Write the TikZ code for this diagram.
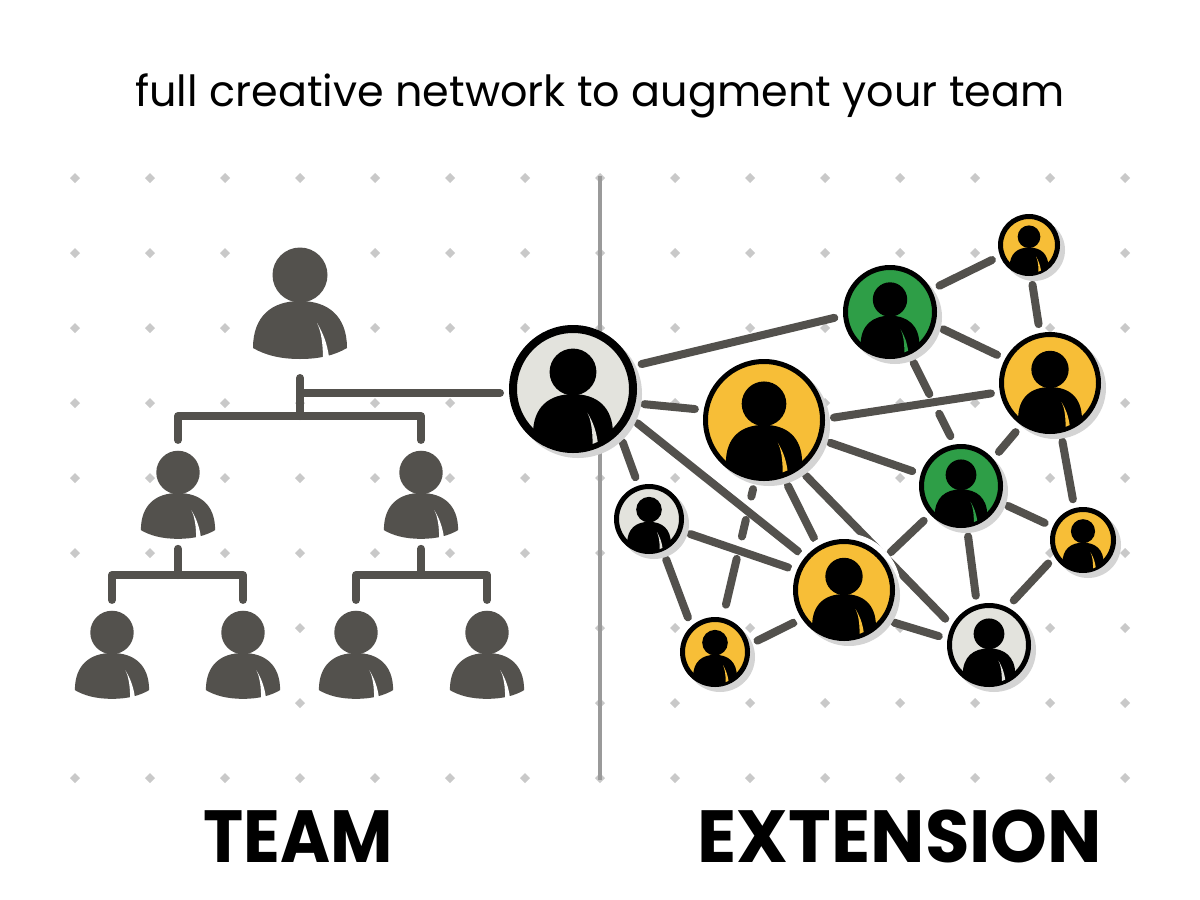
\documentclass[tikz,border=0pt]{standalone}
\usepackage{fontspec}
\setmainfont{Poppins}
\usetikzlibrary{backgrounds}
\definecolor{darkgray}{HTML}{53514D}
\definecolor{shadowgray}{HTML}{D4D4D4}
\definecolor{dotgray}{HTML}{C9C9C9}
\definecolor{rulegray}{HTML}{9A9A9A}
\definecolor{paper}{HTML}{E3E3DD}
\definecolor{amber}{HTML}{F7BE37}
\definecolor{leaf}{HTML}{2E9E47}
\tikzset{
	pics/person/.style 2 args={code={
		\fill[#1] (0,-26) circle (27.5);
		\fill[#1] (-47,47) .. controls (-47,15) and (-28,0) .. (0,0) .. controls (28,0) and (47,15) .. (47,47) .. controls (35,54) and (20,58) .. (0,58) .. controls (-20,58) and (-35,54) .. (-47,47) -- cycle;
		\fill[#2] (17,22) .. controls (23,32) and (27,42) .. (29,56) -- (23,58.5) .. controls (23,42) and (21,30) .. (17,22) -- cycle;
	}},
	avatarnode/.style={circle, draw=black, inner sep=0pt},
	memberbox/.style={rectangle, inner sep=0pt, outer sep=0.1cm},
	treeline/.style={draw=darkgray, line width=0.08cm, line cap=round, line join=round},
	meshline/.style={draw=darkgray, line width=0.08cm, line cap=round},
	heading/.style={inner sep=0pt, text=black}
}
\newcommand{\avatar}[5]{
	\begin{scope}[shift={(#2)}]
		\fill[shadowgray] (5,5) circle (#3);
		\node[avatarnode, fill=#4, line width={#5*0.01cm}, minimum size={(2*#3-#5)*0.01cm}, outer sep={(#5/2+9)*0.01cm}] (#1) at (0,0) {};
		\begin{scope}
			\clip (0,0) circle ({#3-#5/2});
			\fill[black] ({-#3*0.625},{#3*0.7}) rectangle ({#3*0.625},{#3*1.2});
			\pic[scale={#3*0.0133}] at (0,{#3*0.08}) {person={black}{#4}};
		\end{scope}
	\end{scope}
}
\newcommand{\member}[3]{
	\node[memberbox, minimum width={94*#3*0.01cm}, minimum height={112.5*#3*0.01cm}, yshift={-1.75*#3*0.01cm}] (#1) at (#2) {};
	\pic[scale=#3] at (#2) {person={darkgray}{white}};
}
\newcommand{\griddot}[2]{
	\fill[dotgray] (#1,#2) ++(-5,0) -- ++(5,-5) -- ++(5,5) -- ++(-5,5) -- cycle;
}
\begin{document}
\begin{tikzpicture}[x=0.01cm, y=-0.01cm]
	\useasboundingbox (0,0) rectangle (1200,900);

	\node[heading, font=\fontsize{12.2}{15}\selectfont] (title) at (600,96) {full creative network to augment your team};
	\node[heading, font=\fontsize{21}{26}\bfseries] (team) at (298,836.5) {\scalebox{0.92}[1]{TEAM}};
	\node[heading, font=\fontsize{21}{26}\bfseries] (extension) at (900,836.5) {\scalebox{0.98}[1]{EXTENSION}};

	\member{lead}{300,301}{1}
	\member{midleft}{178,493}{0.79}
	\member{midright}{421,493}{0.79}
	\member{leafa}{112,653}{0.79}
	\member{leafb}{243,653}{0.79}
	\member{leafc}{356,653}{0.79}
	\member{leafd}{487,653}{0.79}

	\fill[white] (844,590) circle (57);
	\avatar{hub}{573,389}{64}{paper}{8}
	\avatar{bigamber}{764,420}{61}{amber}{5}
	\avatar{smallpaper}{649,519}{35}{paper}{5}
	\avatar{topleaf}{890,312}{47}{leaf}{5}
	\avatar{topamber}{1029,245}{31}{amber}{5}
	\avatar{rightamber}{1050,383}{51}{amber}{5}
	\avatar{midleaf}{961,486}{42}{leaf}{5}
	\avatar{edgeamber}{1083,540}{33}{amber}{5}
	\avatar{lowamber}{844,590}{51}{amber}{5}
	\avatar{lowpaper}{989,645}{42}{paper}{5}
	\avatar{footamber}{715,652}{35}{amber}{5}

	\coordinate (upbus) at (300,416);
	\coordinate (tee) at (300,393);
	\coordinate (leftbus) at (178,575);
	\coordinate (rightbus) at (421,575);
	\coordinate (ruletop) at (600,176);
	\coordinate (rulefoot) at (600,780);

	\begin{scope}[on background layer]
		\fill[white] (0,0) rectangle (1200,900);
		\foreach \dotx in {75,150,225,375,450,525} {
			\foreach \doty in {178,253,328,403,478,553,778} {
				\griddot{\dotx}{\doty}
			}
		}
		\foreach \dotx in {300,600,1050,1125} {
			\foreach \doty in {178,253,...,778} {
				\griddot{\dotx}{\doty}
			}
		}
		\foreach \dotx in {675,750,900,975} {
			\foreach \doty in {178,253,328,403,478,628,703,778} {
				\griddot{\dotx}{\doty}
			}
		}
		\foreach \doty in {178,253,328,403,628,703,778} {
			\griddot{825}{\doty}
		}
		\draw[rulegray, line width=0.04cm] (ruletop) -- (rulefoot);

		\draw[treeline] (lead.south) ++(0,9) -- (upbus);
		\draw[treeline] (midleft.north) |- (upbus) -| (midright.north);
		\draw[treeline] (tee) -- (hub.west |- tee);
		\draw[treeline] (midleft.south) -- (leftbus);
		\draw[treeline] (leafa.north) |- (leftbus) -| (leafb.north);
		\draw[treeline] (midright.south) -- (rightbus);
		\draw[treeline] (leafc.north) |- (rightbus) -| (leafd.north);

		\draw[meshline] (hub.20) -- (topleaf.186);
		\draw[meshline] (hub.-12) -- (bigamber.171);
		\draw[meshline] (hub.-28) -- (lowamber.140);
		\draw[meshline] (hub.-47) -- (smallpaper.108);
		\draw[meshline] (bigamber.2) -- (rightamber.190);
		\draw[meshline] (bigamber.-19) -- (midleaf.163);
		\draw[meshline] (bigamber.-53) -- (lowpaper.149);
		\draw[meshline] (bigamber.-70) -- (lowamber.120);
		\draw[meshline, dash pattern=on 0.076cm off 0.24cm on 0.17cm off 0.23cm on 0.47cm] (bigamber.-99) -- (footamber.77);
		\draw[meshline] (smallpaper.-20) -- (lowamber.158);
		\draw[meshline] (smallpaper.-67) -- (footamber.128);
		\draw[meshline] (topleaf.28) -- (topamber.202);
		\draw[meshline] (topleaf.-18) -- (rightamber.152);
		\draw[meshline, dash pattern=on 0.35cm off 0.22cm on 0.29cm] (topleaf.-65) -- (midleaf.102);
		\draw[meshline] (topamber.-85) -- (rightamber.101);
		\draw[meshline] (rightamber.235) -- (midleaf.42);
		\draw[meshline] (rightamber.-78) -- (edgeamber.104);
		\draw[meshline] (midleaf.-23) -- (edgeamber.156);
		\draw[meshline] (midleaf.-82) -- (lowpaper.105);
		\draw[meshline] (midleaf.223) -- (lowamber.39);
		\draw[meshline] (edgeamber.214) -- (lowpaper.61);
		\draw[meshline] (lowamber.213) -- (footamber.15);
		\draw[meshline] (lowamber.-33) -- (lowpaper.170);
	\end{scope}
\end{tikzpicture}
\end{document}
